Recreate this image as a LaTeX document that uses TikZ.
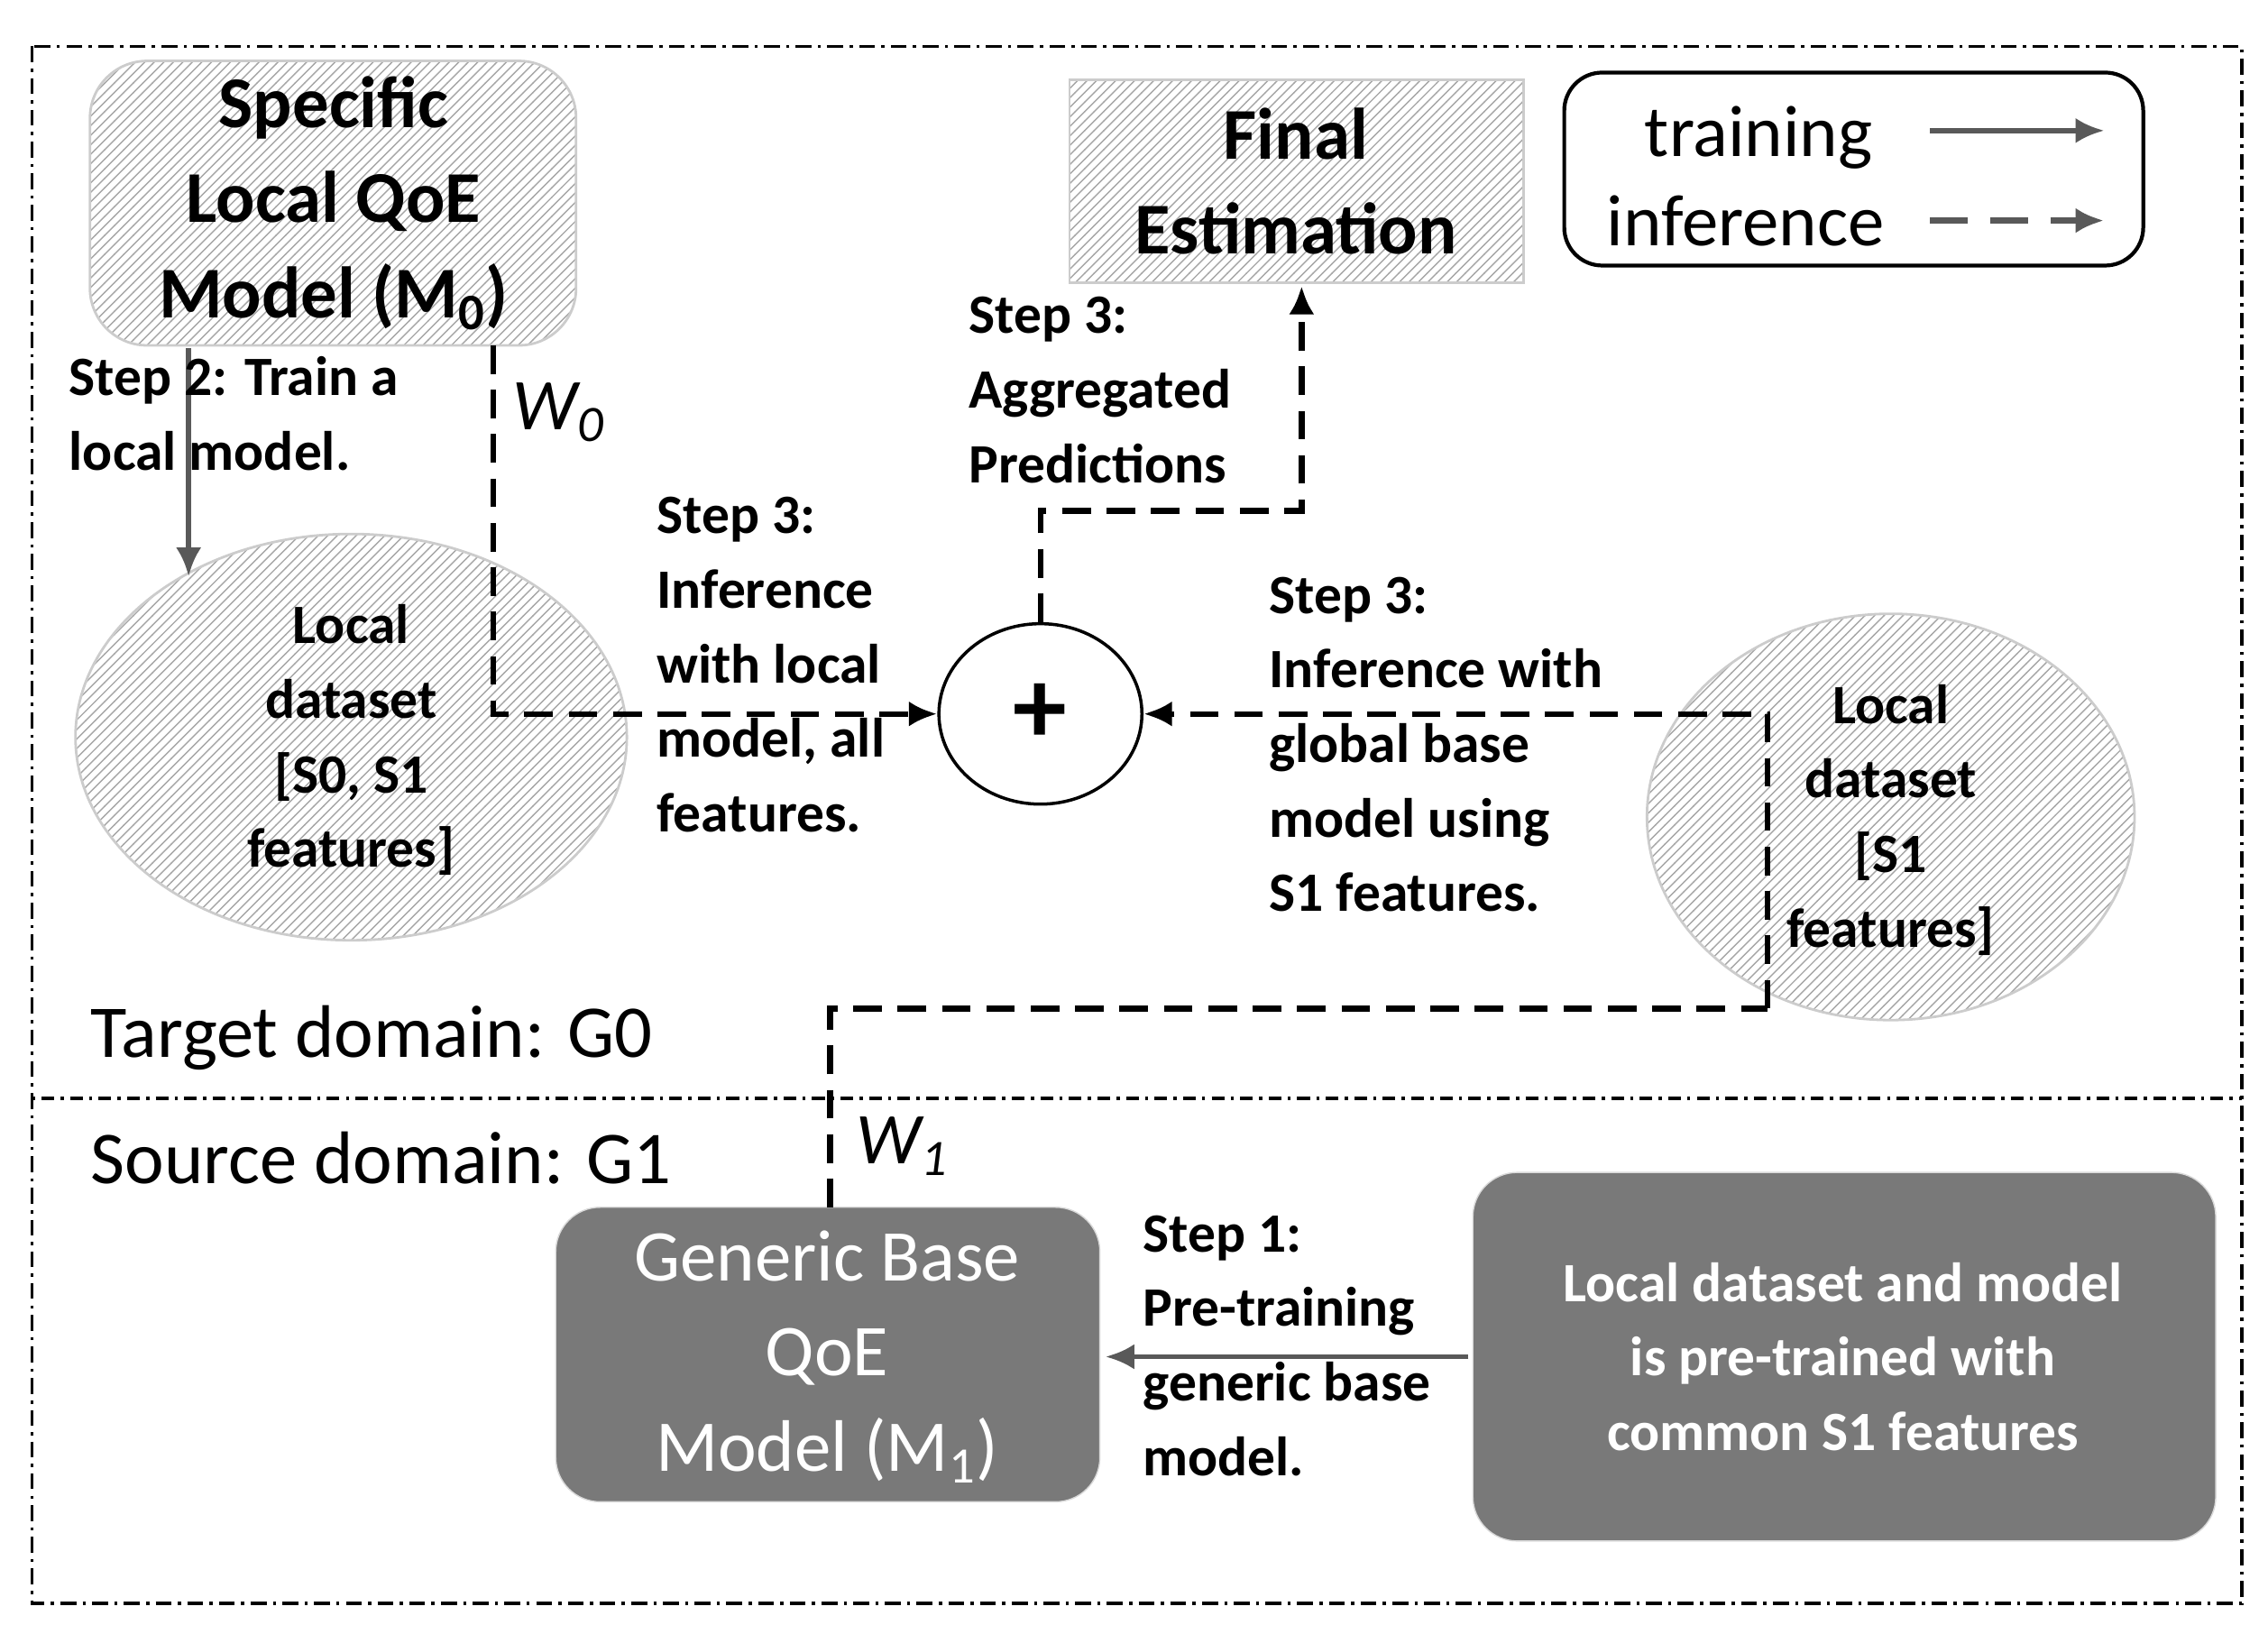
\documentclass[tikz,border=0pt]{standalone}
\usepackage{fontspec}
\setmainfont{Carlito}
\usetikzlibrary{patterns,arrows.meta,shapes.geometric}
\begin{document}
\begin{tikzpicture}[x=0.01609cm,y=-0.01609cm,
 hatch/.style={pattern=north east lines,pattern color=gray!70,draw=gray!40,line width=0.8pt},
 dk/.style={fill=gray!95!black,draw=gray!30,rounded corners=14pt,text=white},
 st/.style={font=\fontsize{17.5}{23.5}\selectfont\bfseries,align=left,anchor=north west},
 inf/.style={line width=1.8pt,dash pattern=on 9pt off 5pt,-{Latex[length=9pt,width=8pt]}},
 trn/.style={line width=1.6pt,gray!70!black,-{Latex[length=9pt,width=8pt]}}]
\useasboundingbox (0,0) rectangle (1563,1126);
\draw[line width=1pt,dash pattern=on 5pt off 2pt on 1pt off 2pt] (22,32) rectangle (1545,1105);
\draw[line width=1pt,dash pattern=on 1pt off 2pt on 4pt off 2pt] (22,757) -- (1545,757);
% nodes
\draw[hatch,rounded corners=18pt] (62,42) rectangle (397,238);
\node[font=\fontsize{23}{30}\selectfont\bfseries,align=center] (m0) at (230,140) {Specific\\Local QoE\\Model (M\textsubscript{0})};
\coordinate (m0b) at (130,240);
\draw[hatch] (737,55) rectangle (1050,195);
\node[font=\fontsize{23}{30}\selectfont\bfseries,align=center] (fe) at (893,125) {Final\\Estimation};
\coordinate (feb) at (897,197);
\draw[line width=1.2pt,rounded corners=12pt] (1078,50) rectangle (1477,183);
\node[font=\fontsize{23}{26}\selectfont] (tr) at (1212,95) {training};
\node[font=\fontsize{23}{26}\selectfont] (in) at (1203,152) {inference};
\coordinate (a1) at (1330,90); \coordinate (a2) at (1450,90);
\coordinate (b1) at (1330,152); \coordinate (b2) at (1450,152);
\draw[trn] (a1) -- (a2);
\draw[inf,gray!70!black,dash pattern=on 12pt off 7pt] (b1) -- (b2);
\draw[hatch] (242,508) ellipse [x radius=190,y radius=140];
\node[font=\fontsize{17.5}{23.5}\selectfont\bfseries,align=center] (ld1) at (242,510) {Local\\dataset\\{[S0, S1}\\features]};
\draw[hatch] (1303,563) ellipse [x radius=168,y radius=140];
\node[font=\fontsize{17.5}{23.5}\selectfont\bfseries,align=center] (ld2) at (1303,565) {Local\\dataset\\{[S1}\\features]};
\node[draw,line width=1pt,ellipse,minimum width=2.25cm,minimum height=2.0cm,font=\fontsize{34}{34}\selectfont\bfseries,inner sep=0] (p) at (717,492) {+};
\draw[dk] (383,832) rectangle (758,1035);
\node[text=white,font=\fontsize{23}{30}\selectfont,align=center] (gb) at (570,935) {Generic Base\\QoE\\Model (M\textsubscript{1})};
\draw[dk] (1015,808) rectangle (1527,1062);
\node[text=white,font=\fontsize{17.5}{23.5}\selectfont\bfseries,align=center] (ldm) at (1270,935) {Local dataset and model\\is pre-trained with\\common S1 features};
% connectors
\coordinate (s1a) at (1012,935); \coordinate (s1b) at (762,935);
\draw[trn] (s1a) -- (s1b);
\coordinate (s2) at (130,397);
\draw[trn] (m0b) -- (s2);
\coordinate (w0) at (340,238);
\draw[inf] (w0) |- (p.west);
\coordinate (r1) at (1218,695); \coordinate (gt) at (572,832);
\draw[inf] (r1) |- (p.east);
\draw[line width=1.8pt,dash pattern=on 9pt off 5pt] (gt) |- (r1);
\draw[inf] (p.north) |- (897,352) -- (feb);
% labels
\node[font=\fontsize{23}{24}\selectfont\itshape] (lw0) at (385,284) {W\textsubscript{0}};
\node[font=\fontsize{23}{24}\selectfont\itshape] (lw1) at (622,790) {W\textsubscript{1}};
\node[st] (t2) at (40,238) {Step 2: Train a\\local model.};
\node[st] (t3a) at (445,335) {Step 3:\\Inference\\with local\\model, all\\features.};
\node[st] (t3b) at (660,197) {Step 3:\\Aggregated\\Predictions};
\node[st] (t3c) at (867,390) {Step 3:\\Inference with\\global base\\model using\\S1 features.};
\node[st] (t1) at (780,830) {Step 1:\\Pre-training\\generic base\\model.};
\node[font=\fontsize{23.5}{26}\selectfont,anchor=west] (tg) at (55,715) {Target domain: G0};
\node[font=\fontsize{23.5}{26}\selectfont,anchor=west] (sg) at (55,798) {Source domain: G1};
\end{tikzpicture}
\end{document}
